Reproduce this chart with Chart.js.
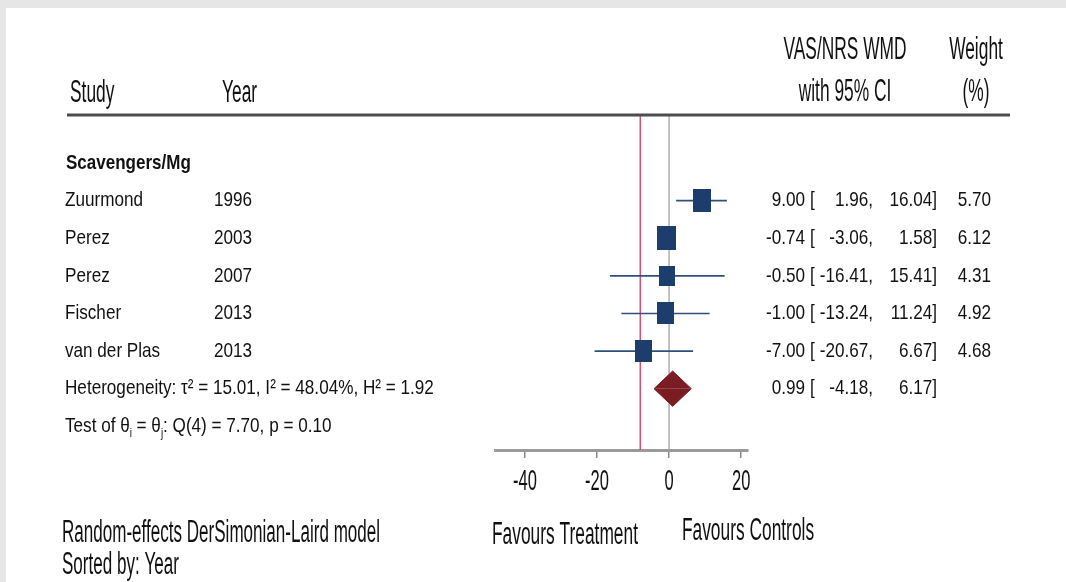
<!DOCTYPE html>
<html>
<head>
<meta charset="utf-8">
<script src="https://cdn.jsdelivr.net/npm/chart.js@4.4.0/dist/chart.umd.min.js"></script>
<style>
body{margin:0;background:#e6e6e6;width:1066px;height:582px;overflow:hidden;position:relative;}
#panel{position:absolute;left:6px;top:8px;right:0;bottom:0;background:#fff;}
#wrap{position:absolute;left:0;top:0;width:1066px;height:582px;}
</style>
</head>
<body>
<div id="panel"></div>
<div id="wrap"><canvas id="forest" width="1066" height="582"></canvas></div>
<script>
// datos del forest plot
var groupName = "Scavengers/Mg";
var studies = ["Zuurmond", "Perez", "Perez", "Fischer", "van der Plas"];
var years = ["1996", "2003", "2007", "2013", "2013"];
var effect = [9.00, -0.74, -0.50, -1.00, -7.00];
var lower = [1.96, -3.06, -16.41, -13.24, -20.67];
var upper = [16.04, 1.58, 15.41, 11.24, 6.67];
var weights = [5.70, 6.12, 4.31, 4.92, 4.68];
var overall = [0.99, -4.18, 6.17]; // estimate, low, high
var xTicks = [-40, -20, 0, 20];
var refLine = -8;
var noEffect = 0;

// filas: 0 = grupo, 1..5 estudios, 6 = global, 7 = test
var yMin = -1.25, yMax = 7.63;
var overallRow = 6, testRow = 7;

var navy = "#1d3d6c";
var darkRed = "#7a1c22";

function box(weight) {
	var w = Math.round(7.7 * Math.sqrt(weight));
	var h = Math.round(w * 1.27);
	var c = document.createElement("canvas");
	c.width = w; c.height = h;
	var g = c.getContext("2d");
	g.fillStyle = navy;
	g.fillRect(0, 0, w, h);
	return c;
}

var datasets = [];
// lineas verticales
datasets.push({
	data: [{x: refLine, y: yMin}, {x: refLine, y: yMax}],
	borderColor: "#cf3b5c", borderWidth: 1.3, pointRadius: 0, order: 10
});
datasets.push({
	data: [{x: noEffect, y: yMin}, {x: noEffect, y: yMax}],
	borderColor: "#a3a3a3", borderWidth: 1.3, pointRadius: 0, order: 9
});
// intervalos de confianza
for (var i = 0; i < studies.length; i++) {
	datasets.push({
		data: [{x: lower[i], y: i + 1}, {x: upper[i], y: i + 1}],
		borderColor: "#30507c", borderWidth: 1.6, pointRadius: 0, order: 5
	});
}
// cuadrados
var boxes = [];
var pts = [];
for (var i = 0; i < studies.length; i++) {
	boxes.push(box(weights[i]));
	pts.push({x: effect[i], y: i + 1});
}
datasets.push({
	data: pts, showLine: false, pointStyle: boxes, pointRadius: 10, order: 1
});
// diamante
var dh = 0.47;
datasets.push({
	data: [{x: overall[1], y: overallRow}, {x: overall[0], y: overallRow - dh}, {x: overall[2], y: overallRow}],
	borderColor: darkRed, backgroundColor: darkRed, borderWidth: 1, pointRadius: 0,
	fill: {value: overallRow}, order: 2
});
datasets.push({
	data: [{x: overall[1], y: overallRow}, {x: overall[0], y: overallRow + dh}, {x: overall[2], y: overallRow}],
	borderColor: darkRed, backgroundColor: darkRed, borderWidth: 1, pointRadius: 0,
	fill: {value: overallRow}, order: 2
});

function txt(ctx, s, x, y, size, sx, align, bold) {
	ctx.save();
	ctx.font = (bold ? "bold " : "") + size + 'px "Liberation Sans", Arial, sans-serif';
	ctx.fillStyle = "#111";
	ctx.textBaseline = "middle";
	ctx.textAlign = align || "left";
	ctx.translate(x, y);
	ctx.scale(sx, 1);
	ctx.fillText(s, 0, 0);
	ctx.restore();
}
function width(ctx, s, size, sx) {
	ctx.save();
	ctx.font = size + 'px "Liberation Sans", Arial, sans-serif';
	var w = ctx.measureText(s).width * sx;
	ctx.restore();
	return w;
}

var textPlugin = {
	id: "textos",
	afterDraw: function(chart) {
		var ctx = chart.ctx;
		var ys = chart.scales.y;
		var xs = chart.scales.x;
		var fs = 21, sx = 0.815;
		var big = 31, bsx = 0.56;
		var left = 65;

		// encabezado
		txt(ctx, "Study", 70, 93, big, bsx);
		txt(ctx, "Year", 222, 93, big, bsx);
		txt(ctx, "VAS/NRS WMD", 845, 50, big, bsx, "center");
		txt(ctx, "with 95% CI", 845, 92, big, bsx, "center");
		txt(ctx, "Weight", 976, 50, big, bsx, "center");
		txt(ctx, "(%)", 976, 92, big, bsx, "center");
		ctx.save();
		ctx.strokeStyle = "#4d4d4d";
		ctx.lineWidth = 3;
		ctx.beginPath();
		ctx.moveTo(67, 115); ctx.lineTo(1010, 115);
		ctx.stroke();
		ctx.restore();

		txt(ctx, groupName, 66, ys.getPixelForValue(0), fs, 0.81, "left", true);
		for (var i = 0; i < studies.length; i++) {
			var y = ys.getPixelForValue(i + 1);
			txt(ctx, studies[i], left, y, fs, sx);
			txt(ctx, years[i], 214, y, fs, sx);
			txt(ctx, effect[i].toFixed(2), 805, y, fs, sx, "right");
			txt(ctx, "[", 810, y, fs, sx);
			txt(ctx, lower[i].toFixed(2) + ",", 873, y, fs, sx, "right");
			txt(ctx, upper[i].toFixed(2) + "]", 937, y, fs, sx, "right");
			txt(ctx, weights[i].toFixed(2), 991, y, fs, sx, "right");
		}
		var yo = ys.getPixelForValue(overallRow);
		txt(ctx, "Heterogeneity: \u03c4\u00b2 = 15.01, I\u00b2 = 48.04%, H\u00b2 = 1.92", left, yo, fs, sx);
		txt(ctx, overall[0].toFixed(2), 805, yo, fs, sx, "right");
		txt(ctx, "[", 810, yo, fs, sx);
		txt(ctx, overall[1].toFixed(2) + ",", 873, yo, fs, sx, "right");
		txt(ctx, overall[2].toFixed(2) + "]", 937, yo, fs, sx, "right");

		// Test of theta_i = theta_j
		var yt = ys.getPixelForValue(testRow);
		var parts = [["Test of \u03b8", false], ["i", true], [" = \u03b8", false], ["j", true], [": Q(4) = 7.70, p = 0.10", false]];
		var x = left;
		for (var k = 0; k < parts.length; k++) {
			var sub = parts[k][1];
			var size = sub ? 12 : fs;
			txt(ctx, parts[k][0], x, sub ? yt + 7 : yt, size, sx);
			x += width(ctx, parts[k][0], size, sx);
		}

		// etiquetas del eje
		for (var t = 0; t < xs.ticks.length; t++) {
			var v = xs.ticks[t].value;
			txt(ctx, String(v), xs.getPixelForValue(v), 482, 30, 0.55, "center");
		}

		// pie
		txt(ctx, "Random-effects DerSimonian-Laird model", 62, 533, big, 0.55);
		txt(ctx, "Sorted by: Year", 62, 565, big, 0.55);
		txt(ctx, "Favours Treatment", 565, 535, big, bsx, "center");
		txt(ctx, "Favours Controls", 748, 531, big, bsx, "center");
	}
};

var forest = new Chart(document.getElementById("forest"), {
	type: "line",
	data: {datasets: datasets},
	options: {
		responsive: false,
		animation: false,
		layout: {padding: {left: 495, right: 318, top: 116, bottom: 124}},
		plugins: {legend: {display: false}, tooltip: {enabled: false}},
		scales: {
			x: {
				type: "linear", min: -48.3, max: 21.9,
				afterBuildTicks: function(scale) {
					scale.ticks = xTicks.map(function(v) { return {value: v}; });
				},
				grid: {drawOnChartArea: false, drawTicks: true, tickLength: 8, color: "#8a8a8a", lineWidth: 1.5},
				border: {display: true, color: "#9a9a9a", width: 3},
				ticks: {display: false}
			},
			y: {
				type: "linear", display: false, reverse: true, min: yMin, max: yMax
			}
		}
	},
	plugins: [textPlugin]
});
</script>
</body>
</html>
